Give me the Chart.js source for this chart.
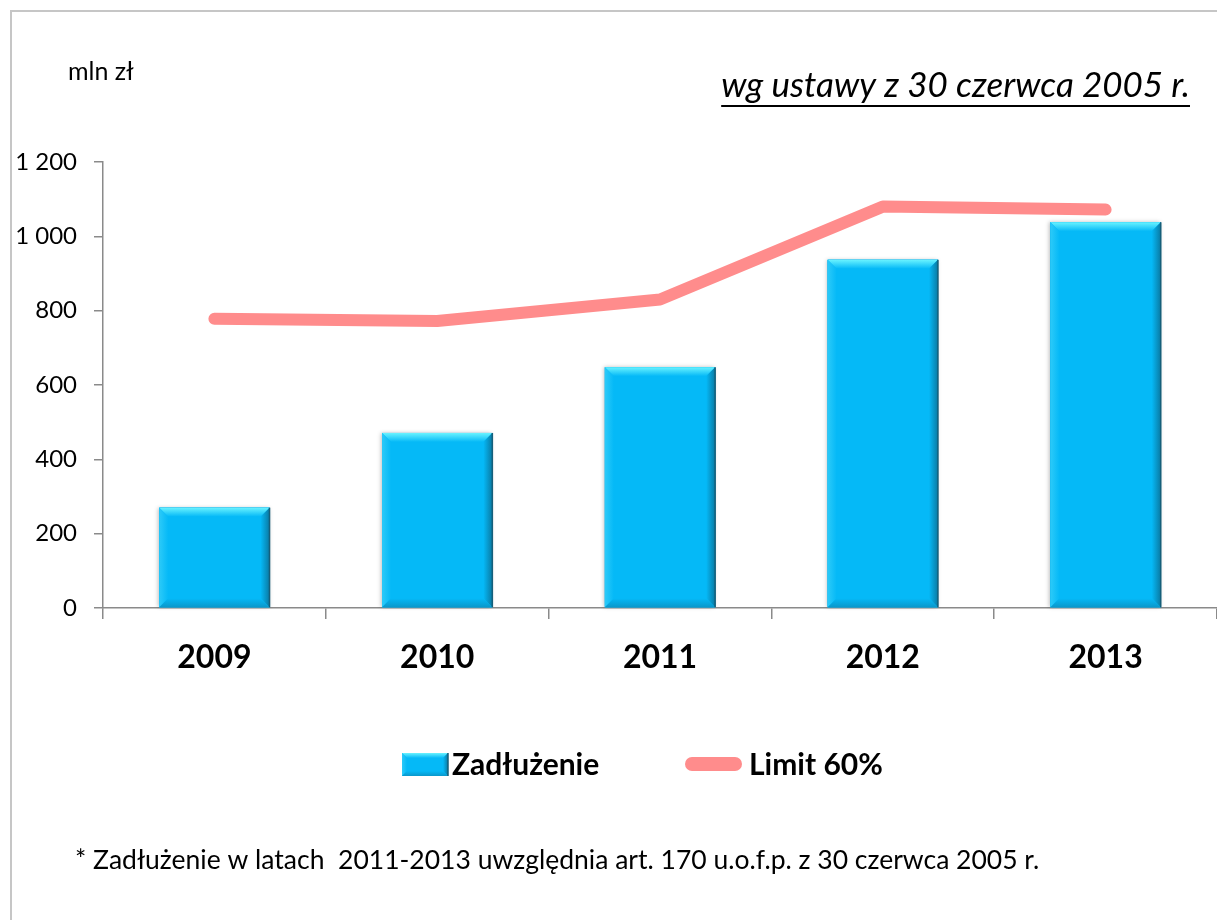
<!DOCTYPE html>
<html lang="pl">
<head>
  <meta charset="UTF-8">
  <title>Zadłużenie i limit 60%</title>
  <script src="https://cdn.jsdelivr.net/npm/chart.js"></script>
  <style>
    body { margin: 0; background: #fff; font-family: Lato, sans-serif; }
    .wrap { position: relative; width: 1217px; height: 920px; overflow: hidden; }
    .frame { position: absolute; left: 10px; top: 10px; width: 1300px; height: 1000px;
             border-left: 2px solid #c6c6c6; border-top: 2px solid #c6c6c6; }
    canvas { position: absolute; left: 0; top: 0; }
  </style>
</head>
<body>
  <div class="wrap">
    <div class="frame"></div>
    <canvas id="debtChart" width="1217" height="920"></canvas>
  </div>

  <script>
    // dane (mln zł)
    const years = ['2009', '2010', '2011', '2012', '2013'];
    const zadluzenie = [270, 471, 648, 937, 1038];
    const limit60 = [778, 772, 830, 1080, 1072];
    const yMax = 1200;
    const yStep = 200;

    const barFace = '#05b9f7';
    const lineColor = '#ff8c8c';
    const FONT = 'Lato, "DejaVu Sans", sans-serif';

    // fazowanie słupków (efekt 3D jak w Excelu)
    function side(ctx, pts, g0, c0, c1) {
      const g = ctx.createLinearGradient(g0[0], g0[1], g0[2], g0[3]);
      g.addColorStop(0, c0);
      g.addColorStop(1, c1);
      ctx.fillStyle = g;
      ctx.beginPath();
      ctx.moveTo(pts[0], pts[1]);
      for (let i = 2; i < pts.length; i += 2) ctx.lineTo(pts[i], pts[i + 1]);
      ctx.closePath();
      ctx.fill();
    }

    function bevel(ctx, l, t, r, b, s) {
      ctx.save();
      ctx.fillStyle = barFace;
      ctx.fillRect(l, t, r - l, b - t);
      side(ctx, [l, t, r, t, r - s, t + s, l + s, t + s], [0, t, 0, t + s], '#6af3ff', barFace);
      side(ctx, [l, t, l + s, t + s, l + s, b - s, l, b], [l, 0, l + s, 0], '#2ccaf8', barFace);
      side(ctx, [r, t, r, b, r - s, b - s, r - s, t + s], [r, 0, r - s, 0], '#0a7aa3', barFace);
      side(ctx, [l, b, r, b, r - s, b - s, l + s, b - s], [0, b, 0, b - s], '#0a98cb', barFace);
      ctx.strokeStyle = '#155f7a';
      ctx.lineWidth = 1.5;
      ctx.beginPath();
      ctx.moveTo(r, t); ctx.lineTo(r, b);
      ctx.stroke();
      ctx.restore();
    }

    const bevelBars = {
      id: 'bevelBars',
      afterDatasetDraw(chart, args) {
        if (args.index !== 0) return;
        const ctx = chart.ctx;
        args.meta.data.forEach(bar => {
          const p = bar.getProps(['x', 'y', 'base', 'width'], true);
          const l = p.x - p.width / 2, r = p.x + p.width / 2;
          ctx.save();
          ctx.shadowColor = 'rgba(0,0,0,0.25)';
          ctx.shadowBlur = 4;
          ctx.shadowOffsetX = -1;
          ctx.fillStyle = barFace;
          ctx.fillRect(l, p.y, r - l, p.base - p.y);
          ctx.restore();
          bevel(ctx, l, p.y, r, p.base, 9);
        });
      }
    };

    const texts = {
      id: 'texts',
      afterDraw(chart) {
        const ctx = chart.ctx;
        ctx.save();
        ctx.fillStyle = '#000';
        ctx.textBaseline = 'alphabetic';

        // jednostka
        ctx.font = '25px ' + FONT;
        ctx.textAlign = 'left';
        ctx.fillText('mln zł', 68, 80);

        // podtytuł podkreślony
        ctx.font = 'italic 35px ' + FONT;
        ctx.textAlign = 'right';
        const title = 'wg ustawy z 30 czerwca 2005 r.';
        const tw = ctx.measureText(title).width;
        ctx.fillText(title, 1190, 97);
        ctx.fillRect(1190 - tw, 105, tw, 2);

        // legenda
        ctx.textAlign = 'left';
        ctx.font = 'bold 30px ' + FONT;
        bevel(ctx, 402, 753, 448, 776, 5);
        ctx.fillText('Zadłużenie', 452, 775);
        ctx.strokeStyle = lineColor;
        ctx.lineWidth = 14;
        ctx.lineCap = 'round';
        ctx.beginPath();
        ctx.moveTo(692, 764); ctx.lineTo(735, 764);
        ctx.stroke();
        ctx.fillText('Limit 60%', 749, 775);

        // przypis
        ctx.font = '26.5px ' + FONT;
        ctx.fillText('* Zadłużenie w latach  2011-2013 uwzględnia art. 170 u.o.f.p. z 30 czerwca 2005 r.', 75, 869);
        ctx.restore();
      }
    };

    new Chart(document.getElementById('debtChart').getContext('2d'), {
      type: 'bar',
      data: {
        labels: years,
        datasets: [
          {
            type: 'bar',
            label: 'Zadłużenie',
            data: zadluzenie,
            backgroundColor: barFace,
            categoryPercentage: 1,
            barPercentage: 0.495,
            order: 1
          },
          {
            type: 'line',
            label: 'Limit 60%',
            data: limit60,
            borderColor: lineColor,
            borderWidth: 12,
            borderCapStyle: 'round',
            borderJoinStyle: 'round',
            pointRadius: 0,
            tension: 0,
            fill: false,
            order: 0
          }
        ]
      },
      options: {
        responsive: false,
        animation: false,
        layout: { padding: { top: 162, right: 0, left: 0, bottom: 0 } },
        plugins: {
          legend: { display: false },
          tooltip: { enabled: false }
        },
        scales: {
          x: {
            afterFit(scale) { scale.height = 312; },
            grid: {
              offset: true,
              drawOnChartArea: false,
              color: '#8a8a8a',
              lineWidth: 1.5,
              tickLength: 11
            },
            border: { color: '#8a8a8a', width: 1.5 },
            ticks: {
              color: '#000',
              padding: 19,
              font: { family: FONT, size: 32, weight: 'bold' }
            }
          },
          y: {
            min: 0,
            max: yMax,
            afterFit(scale) { scale.width = 103; },
            grid: {
              drawOnChartArea: false,
              color: '#8a8a8a',
              lineWidth: 1.5,
              tickLength: 9
            },
            border: { color: '#8a8a8a', width: 1.5 },
            ticks: {
              stepSize: yStep,
              color: '#000',
              padding: 17,
              font: { family: FONT, size: 24 },
              callback: v => String(v).replace(/\B(?=(\d{3})+(?!\d))/g, ' ')
            }
          }
        }
      },
      plugins: [bevelBars, texts]
    });
  </script>
</body>
</html>
